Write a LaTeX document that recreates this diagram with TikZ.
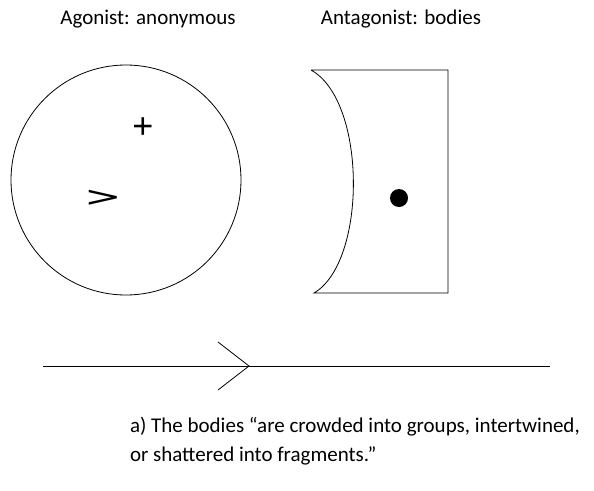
\documentclass[tikz,border=0pt]{standalone}
\usepackage{fontspec}
\usepackage{graphicx}
\setmainfont{Carlito}
\newfontfamily\symfont{Liberation Sans}
\newfontfamily\gtfont{DejaVu Sans}
\begin{document}
\begin{tikzpicture}[x=1pt,y=-1pt,
  every node/.style={inner sep=0pt,outer sep=0pt},
  lbl/.style={font=\fontsize{21}{29}\selectfont},
  sym/.style={font=\symfont\fontsize{36}{40}\selectfont},
  stroke/.style={line width=0.8pt,black}]
\useasboundingbox (0,0) rectangle (594,490);
% titles
\node[lbl,anchor=base] (tagon) at (148,24) {Agonist: anonymous};
\node[lbl,anchor=base] (tanta) at (401,24) {Antagonist: bodies};
% agonist circle
\node[stroke,draw,circle,minimum size=230pt] (agon) at (126,180) {};
\node[sym] (plus) at (143,128) {+};
\node[font=\gtfont\fontsize{28}{30}\selectfont] (gt) at (103,198) {\scalebox{1.6}[1]{>}};
% antagonist shape
\coordinate (tl) at (311,70);
\coordinate (tr) at (448,70);
\coordinate (br) at (448,293);
\coordinate (bl) at (314,293);
\draw[stroke] (tl) -- (tr) -- (br) -- (bl) .. controls (367,262) and (367,101) .. (tl);
\fill (399,198) circle[radius=9];
% line with chevron
\coordinate (ls) at (43,366);
\coordinate (le) at (550,366);
\coordinate (tip) at (249,366);
\coordinate (ca) at (218,342);
\coordinate (cb) at (218,390);
\draw[stroke] (ls) -- (le);
\draw[stroke] (ca) -- (tip) -- (cb);
% caption
\node[lbl,anchor=base west,align=left] (cap) at (130,461) {a) The bodies “are crowded into groups, intertwined,\\or shattered into fragments.”};
\end{tikzpicture}
\end{document}
